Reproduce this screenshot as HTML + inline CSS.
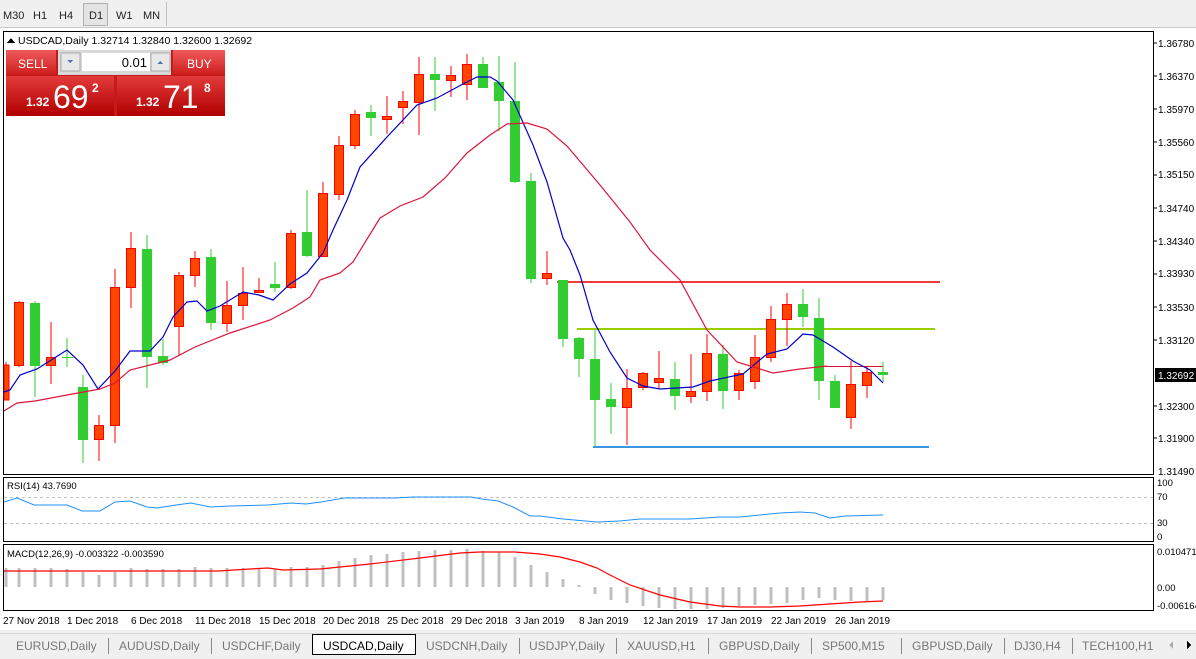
<!DOCTYPE html>
<html><head><meta charset="utf-8"><style>
html,body{margin:0;padding:0;width:1196px;height:659px;overflow:hidden;background:#fff;font-family:"Liberation Sans",sans-serif}
svg text{font-family:"Liberation Sans",sans-serif}
</style></head><body>
<svg width="1196" height="659" xmlns="http://www.w3.org/2000/svg" shape-rendering="crispEdges">
<!-- toolbar -->
<rect x="0" y="0" width="1196" height="28" fill="#f0f0f0"/>
<line x1="0" y1="27.5" x2="1196" y2="27.5" stroke="#c8c8c8"/>
<rect x="83.5" y="3.5" width="24" height="22" fill="#e4e4e4" stroke="#b0b0b0"/>
<line x1="166.5" y1="2" x2="166.5" y2="26" stroke="#c0c0c0"/>
<g font-size="11" fill="#222"><text x="3" y="19">M30</text><text x="33" y="19">H1</text><text x="59" y="19">H4</text><text x="89" y="19">D1</text><text x="116" y="19">W1</text><text x="143" y="19">MN</text></g>
<rect x="0" y="28" width="1196" height="602" fill="#fff"/>
<!-- main chart frame -->
<rect x="3.5" y="31.5" width="1150" height="443" fill="none" stroke="#000"/>
<rect x="3.5" y="477.5" width="1150" height="64" fill="none" stroke="#000"/>
<rect x="3.5" y="544.5" width="1150" height="66" fill="none" stroke="#000"/>
<!-- header text -->
<path d="M7 43 L11 38 L15 43 Z" fill="#000"/>
<text x="18" y="44" font-size="10.5" fill="#000">USDCAD,Daily  1.32714 1.32840 1.32600 1.32692</text>
<!-- price axis labels -->
<g font-size="10" fill="#000">
<text x="1158" y="47">1.36780</text><text x="1158" y="80">1.36370</text><text x="1158" y="113">1.35970</text><text x="1158" y="146">1.35560</text><text x="1158" y="178">1.35150</text><text x="1158" y="212">1.34740</text><text x="1158" y="245">1.34340</text><text x="1158" y="277">1.33930</text><text x="1158" y="311">1.33530</text><text x="1158" y="344">1.33120</text><text x="1158" y="410">1.32300</text><text x="1158" y="442">1.31900</text><text x="1158" y="475">1.31490</text>
</g>
<g stroke="#000"><line x1="1153" y1="43" x2="1157" y2="43"/><line x1="1153" y1="76" x2="1157" y2="76"/><line x1="1153" y1="109" x2="1157" y2="109"/><line x1="1153" y1="142" x2="1157" y2="142"/><line x1="1153" y1="175" x2="1157" y2="175"/><line x1="1153" y1="208" x2="1157" y2="208"/><line x1="1153" y1="241" x2="1157" y2="241"/><line x1="1153" y1="274" x2="1157" y2="274"/><line x1="1153" y1="307" x2="1157" y2="307"/><line x1="1153" y1="340" x2="1157" y2="340"/><line x1="1153" y1="406" x2="1157" y2="406"/><line x1="1153" y1="438" x2="1157" y2="438"/></g>
<rect x="1155" y="368" width="41" height="14" fill="#000"/>
<text x="1158" y="379" font-size="10" fill="#fff">1.32692</text>
<!-- horizontal level lines -->
<line x1="557" y1="282" x2="940" y2="282" stroke="#f23a3a" stroke-width="2"/>
<line x1="577" y1="329" x2="935" y2="329" stroke="#9acd00" stroke-width="2"/>
<line x1="593" y1="447" x2="929" y2="447" stroke="#3a96e0" stroke-width="2"/>
<line x1="824" y1="366.5" x2="883" y2="366.5" stroke="#dc143c"/>
<!-- candles -->
<g id="c" stroke-width="1">
<line x1="6" y1="362" x2="6" y2="400" stroke="#f00"/><rect x="4" y="365" width="5" height="35" fill="#ff4500" stroke="#f00"/>
<line x1="19" y1="301" x2="19" y2="367" stroke="#f00"/><rect x="14.5" y="302.5" width="9" height="63" fill="#ff4500" stroke="#f00"/>
<line x1="35" y1="301" x2="35" y2="397" stroke="#32cd32"/><rect x="30" y="303" width="10" height="63" fill="#32cd32"/>
<line x1="51" y1="322" x2="51" y2="384" stroke="#f00"/><rect x="46.5" y="357.5" width="9" height="8" fill="#ff4500" stroke="#f00"/>
<line x1="67" y1="338" x2="67" y2="367" stroke="#32cd32"/><line x1="62" y1="357.5" x2="73" y2="357.5" stroke="#32cd32"/>
<line x1="83" y1="375" x2="83" y2="463" stroke="#32cd32"/><rect x="78" y="387" width="10" height="53" fill="#32cd32"/>
<line x1="99" y1="415" x2="99" y2="461" stroke="#f00"/><rect x="94.5" y="425.5" width="9" height="14" fill="#ff4500" stroke="#f00"/>
<line x1="115" y1="269" x2="115" y2="443" stroke="#f00"/><rect x="110.5" y="287.5" width="9" height="138" fill="#ff4500" stroke="#f00"/>
<line x1="131" y1="232" x2="131" y2="308" stroke="#f00"/><rect x="126.5" y="248.5" width="9" height="39" fill="#ff4500" stroke="#f00"/>
<line x1="147" y1="235" x2="147" y2="388" stroke="#32cd32"/><rect x="142" y="249" width="10" height="108" fill="#32cd32"/>
<line x1="163" y1="339" x2="163" y2="365" stroke="#32cd32"/><rect x="158" y="356" width="10" height="7" fill="#32cd32"/>
<line x1="179" y1="272" x2="179" y2="355" stroke="#f00"/><rect x="174.5" y="275.5" width="9" height="51" fill="#ff4500" stroke="#f00"/>
<line x1="195" y1="251" x2="195" y2="287" stroke="#f00"/><rect x="190.5" y="258.5" width="9" height="17" fill="#ff4500" stroke="#f00"/>
<line x1="211" y1="249" x2="211" y2="330" stroke="#32cd32"/><rect x="206" y="257" width="10" height="66" fill="#32cd32"/>
<line x1="227" y1="281" x2="227" y2="332" stroke="#f00"/><rect x="222.5" y="305.5" width="9" height="18" fill="#ff4500" stroke="#f00"/>
<line x1="243" y1="267" x2="243" y2="320" stroke="#f00"/><rect x="238.5" y="293.5" width="9" height="12" fill="#ff4500" stroke="#f00"/>
<line x1="259" y1="278" x2="259" y2="292" stroke="#f00"/><rect x="254.5" y="290.5" width="9" height="2" fill="#ff4500" stroke="#f00"/>
<line x1="275" y1="262" x2="275" y2="292" stroke="#32cd32"/><rect x="270" y="284" width="10" height="4" fill="#32cd32"/>
<line x1="291" y1="230" x2="291" y2="289" stroke="#f00"/><rect x="286.5" y="233.5" width="9" height="54" fill="#ff4500" stroke="#f00"/>
<line x1="307" y1="190" x2="307" y2="257" stroke="#32cd32"/><rect x="302" y="232" width="10" height="24" fill="#32cd32"/>
<line x1="323" y1="182" x2="323" y2="257" stroke="#f00"/><rect x="318.5" y="193.5" width="9" height="63" fill="#ff4500" stroke="#f00"/>
<line x1="339" y1="136" x2="339" y2="200" stroke="#f00"/><rect x="334.5" y="145.5" width="9" height="49" fill="#ff4500" stroke="#f00"/>
<line x1="355" y1="110" x2="355" y2="149" stroke="#f00"/><rect x="350.5" y="114.5" width="9" height="31" fill="#ff4500" stroke="#f00"/>
<line x1="371" y1="105" x2="371" y2="136" stroke="#32cd32"/><rect x="366" y="112" width="10" height="6" fill="#32cd32"/>
<line x1="387" y1="96" x2="387" y2="134" stroke="#f00"/><rect x="382.5" y="116.5" width="9" height="3" fill="#ff4500" stroke="#f00"/>
<line x1="403" y1="91" x2="403" y2="124" stroke="#f00"/><rect x="398.5" y="101.5" width="9" height="6" fill="#ff4500" stroke="#f00"/>
<line x1="419" y1="57" x2="419" y2="135" stroke="#f00"/><rect x="414.5" y="74.5" width="9" height="28" fill="#ff4500" stroke="#f00"/>
<line x1="435" y1="57" x2="435" y2="111" stroke="#32cd32"/><rect x="430" y="74" width="10" height="6" fill="#32cd32"/>
<line x1="451" y1="66" x2="451" y2="97" stroke="#f00"/><rect x="446.5" y="75.5" width="9" height="5" fill="#ff4500" stroke="#f00"/>
<line x1="467" y1="54" x2="467" y2="100" stroke="#f00"/><rect x="462.5" y="64.5" width="9" height="20" fill="#ff4500" stroke="#f00"/>
<line x1="483" y1="57" x2="483" y2="88" stroke="#32cd32"/><rect x="478" y="64" width="10" height="24" fill="#32cd32"/>
<line x1="499" y1="56" x2="499" y2="131" stroke="#32cd32"/><rect x="494" y="82" width="10" height="19" fill="#32cd32"/>
<line x1="515" y1="62" x2="515" y2="183" stroke="#32cd32"/><rect x="510" y="101" width="10" height="81" fill="#32cd32"/>
<line x1="531" y1="173" x2="531" y2="283" stroke="#32cd32"/><rect x="526" y="181" width="10" height="98" fill="#32cd32"/>
<line x1="547" y1="251" x2="547" y2="285" stroke="#f00"/><rect x="542.5" y="273.5" width="9" height="5" fill="#ff4500" stroke="#f00"/>
<line x1="563" y1="280" x2="563" y2="347" stroke="#32cd32"/><rect x="558" y="280" width="10" height="59" fill="#32cd32"/>
<line x1="579" y1="337" x2="579" y2="377" stroke="#32cd32"/><rect x="574" y="338" width="10" height="21" fill="#32cd32"/>
<line x1="595" y1="330" x2="595" y2="446" stroke="#32cd32"/><rect x="590" y="359" width="10" height="41" fill="#32cd32"/>
<line x1="611" y1="383" x2="611" y2="434" stroke="#32cd32"/><rect x="606" y="399" width="10" height="8" fill="#32cd32"/>
<line x1="627" y1="369" x2="627" y2="445" stroke="#f00"/><rect x="622.5" y="388.5" width="9" height="19" fill="#ff4500" stroke="#f00"/>
<line x1="643" y1="372" x2="643" y2="390" stroke="#f00"/><rect x="638.5" y="373.5" width="9" height="14" fill="#ff4500" stroke="#f00"/>
<line x1="659" y1="351" x2="659" y2="389" stroke="#f00"/><rect x="654.5" y="378.5" width="9" height="4" fill="#ff4500" stroke="#f00"/>
<line x1="675" y1="362" x2="675" y2="410" stroke="#32cd32"/><rect x="670" y="379" width="10" height="17" fill="#32cd32"/>
<line x1="691" y1="354" x2="691" y2="403" stroke="#f00"/><rect x="686.5" y="391.5" width="9" height="5" fill="#ff4500" stroke="#f00"/>
<line x1="707" y1="334" x2="707" y2="401" stroke="#f00"/><rect x="702.5" y="353.5" width="9" height="38" fill="#ff4500" stroke="#f00"/>
<line x1="723" y1="345" x2="723" y2="409" stroke="#32cd32"/><rect x="718" y="354" width="10" height="37" fill="#32cd32"/>
<line x1="739" y1="370" x2="739" y2="400" stroke="#f00"/><rect x="734.5" y="373.5" width="9" height="17" fill="#ff4500" stroke="#f00"/>
<line x1="755" y1="335" x2="755" y2="389" stroke="#f00"/><rect x="750.5" y="357.5" width="9" height="24" fill="#ff4500" stroke="#f00"/>
<line x1="771" y1="306" x2="771" y2="362" stroke="#f00"/><rect x="766.5" y="319.5" width="9" height="38" fill="#ff4500" stroke="#f00"/>
<line x1="787" y1="293" x2="787" y2="346" stroke="#f00"/><rect x="782.5" y="304.5" width="9" height="15" fill="#ff4500" stroke="#f00"/>
<line x1="803" y1="289" x2="803" y2="327" stroke="#32cd32"/><rect x="798" y="304" width="10" height="13" fill="#32cd32"/>
<line x1="819" y1="298" x2="819" y2="400" stroke="#32cd32"/><rect x="814" y="318" width="10" height="63" fill="#32cd32"/>
<line x1="835" y1="375" x2="835" y2="408" stroke="#32cd32"/><rect x="830" y="381" width="10" height="27" fill="#32cd32"/>
<line x1="851" y1="361" x2="851" y2="429" stroke="#f00"/><rect x="846.5" y="384.5" width="9" height="33" fill="#ff4500" stroke="#f00"/>
<line x1="867" y1="366" x2="867" y2="398" stroke="#f00"/><rect x="862.5" y="372.5" width="9" height="13" fill="#ff4500" stroke="#f00"/>
<line x1="883" y1="362" x2="883" y2="382" stroke="#32cd32"/><rect x="878" y="372" width="10" height="3" fill="#32cd32"/>
</g>
<!-- moving averages -->
<g fill="none" shape-rendering="auto">
<polyline stroke="#0000cc" stroke-width="1.2" points="4,392 10,390 20,375 37,369 67,350 83,365 98,389 115,371 130,351 150,351 163,337 173,317 187,302 197,301 207,311 220,306 243,292 259,295 273,300 290,284 307,273 323,253 333,230 347,200 360,167 387,137 417,105 437,98 463,84 477,77 490,77 497,81 513,100 533,145 547,182 563,238 570,250 580,275 593,320 610,352 627,378 643,386 660,389 693,387 710,381 743,374 767,354 787,349 803,334 813,335 833,347 853,361 870,370 883,383"/>
<polyline stroke="#dc143c" stroke-width="1.2" points="4,411 17,403 35,401 67,395 100,389 115,383 130,370 170,360 195,347 230,333 270,320 293,308 310,297 320,280 340,273 353,262 380,218 400,206 423,197 445,178 467,153 490,135 507,124 527,123 547,129 567,146 600,185 630,222 650,250 680,280 707,330 737,362 760,369 773,373 800,369 827,366"/>
</g>
<!-- SELL/BUY panel -->
<defs>
<linearGradient id="rg" x1="0" y1="0" x2="0" y2="1"><stop offset="0" stop-color="#e23b3b"/><stop offset="1" stop-color="#b10000"/></linearGradient>
<linearGradient id="rg2" x1="0" y1="0" x2="0" y2="1"><stop offset="0" stop-color="#ef5a5a"/><stop offset="1" stop-color="#cf2020"/></linearGradient>
</defs>
<rect x="6" y="50" width="219" height="66" fill="#c41a1a"/>
<rect x="6" y="50" width="50" height="24" fill="url(#rg2)"/>
<rect x="173" y="50" width="52" height="24" fill="url(#rg2)"/>
<rect x="58" y="50" width="113" height="25" fill="#d8d8d8"/>
<rect x="61" y="53" width="19" height="18" fill="#e8e8e8" stroke="#aaa"/>
<rect x="82" y="53" width="68" height="18" fill="#fff"/>
<rect x="151" y="53" width="19" height="18" fill="#e8e8e8" stroke="#aaa"/>
<path d="M67 60 L73 60 L70 63 Z" fill="#5570b0"/><path d="M157 64 L163 64 L160 61 Z" fill="#5570b0"/>
<text x="147" y="67" font-size="13" fill="#000" text-anchor="end">0.01</text>
<text x="18" y="68" font-size="12" fill="#fff">SELL</text>
<text x="187" y="68" font-size="12" fill="#fff">BUY</text>
<rect x="6" y="76" width="108" height="40" fill="url(#rg)"/>
<rect x="117" y="76" width="108" height="40" fill="url(#rg)"/>
<g fill="#fff"><text x="26" y="106" font-size="12" font-weight="bold">1.32</text><text x="53" y="108" font-size="32">69</text><text x="92" y="92" font-size="12" font-weight="bold">2</text>
<text x="136" y="106" font-size="12" font-weight="bold">1.32</text><text x="163" y="108" font-size="32">71</text><text x="204" y="92" font-size="12" font-weight="bold">8</text></g>
<!-- RSI -->
<text x="7" y="489" font-size="9.5" fill="#000">RSI(14) 43.7690</text>
<line x1="4" y1="497.5" x2="1153" y2="497.5" stroke="#c0c0c0" stroke-dasharray="3,3"/>
<line x1="4" y1="523.5" x2="1153" y2="523.5" stroke="#c0c0c0" stroke-dasharray="3,3"/>
<polyline fill="none" stroke="#1e90ff" shape-rendering="auto" points="4,502 17,498 34,505 67,505 82,511 100,511 115,502 130,501 147,507 157,508 176,505 191,503 210,507 230,506 268,505 291,503 306,504 321,502 344,498 364,498 394,498 413,497 471,497 482,499 498,501 513,507 530,516 540,516 563,519 597,522 620,521 640,519 690,519 720,517 740,517 760,515 780,513 800,512 815,513 830,518 845,516 883,515"/>
<g font-size="9.5" fill="#000"><text x="1157" y="486">100</text><text x="1157" y="500">70</text><text x="1157" y="526">30</text><text x="1157" y="540">0</text></g>
<!-- MACD -->
<g stroke="#c0c0c0" stroke-width="3">
<line x1="6" y1="568" x2="6" y2="587"/><line x1="19" y1="568" x2="19" y2="587"/><line x1="35" y1="568" x2="35" y2="587"/><line x1="51" y1="568" x2="51" y2="587"/><line x1="67" y1="569" x2="67" y2="587"/><line x1="83" y1="572" x2="83" y2="587"/><line x1="99" y1="575" x2="99" y2="587"/><line x1="115" y1="572" x2="115" y2="587"/><line x1="131" y1="568" x2="131" y2="587"/><line x1="147" y1="569" x2="147" y2="587"/><line x1="163" y1="569" x2="163" y2="587"/><line x1="179" y1="569" x2="179" y2="587"/><line x1="195" y1="567" x2="195" y2="587"/><line x1="211" y1="568" x2="211" y2="587"/><line x1="227" y1="568" x2="227" y2="587"/><line x1="243" y1="568" x2="243" y2="587"/><line x1="259" y1="568" x2="259" y2="587"/><line x1="275" y1="569" x2="275" y2="587"/><line x1="291" y1="567" x2="291" y2="587"/><line x1="307" y1="567" x2="307" y2="587"/><line x1="323" y1="565" x2="323" y2="587"/><line x1="339" y1="561" x2="339" y2="587"/><line x1="355" y1="558" x2="355" y2="587"/><line x1="371" y1="555" x2="371" y2="587"/><line x1="387" y1="554" x2="387" y2="587"/><line x1="403" y1="552" x2="403" y2="587"/><line x1="419" y1="551" x2="419" y2="587"/><line x1="435" y1="550" x2="435" y2="587"/><line x1="451" y1="550" x2="451" y2="587"/><line x1="467" y1="549" x2="467" y2="587"/><line x1="483" y1="551" x2="483" y2="587"/><line x1="499" y1="552" x2="499" y2="587"/><line x1="515" y1="557" x2="515" y2="587"/><line x1="531" y1="565" x2="531" y2="587"/><line x1="547" y1="572" x2="547" y2="587"/><line x1="563" y1="579" x2="563" y2="587"/><line x1="579" y1="585" x2="579" y2="587"/>
<line x1="595" y1="587" x2="595" y2="594"/><line x1="611" y1="587" x2="611" y2="600"/><line x1="627" y1="587" x2="627" y2="603"/><line x1="643" y1="587" x2="643" y2="606"/><line x1="659" y1="587" x2="659" y2="608"/><line x1="675" y1="587" x2="675" y2="609"/><line x1="691" y1="587" x2="691" y2="609"/><line x1="707" y1="587" x2="707" y2="609"/><line x1="723" y1="587" x2="723" y2="608"/><line x1="739" y1="587" x2="739" y2="606"/><line x1="755" y1="587" x2="755" y2="605"/><line x1="771" y1="587" x2="771" y2="604"/><line x1="787" y1="587" x2="787" y2="603"/><line x1="803" y1="587" x2="803" y2="600"/><line x1="819" y1="587" x2="819" y2="598"/><line x1="835" y1="587" x2="835" y2="600"/><line x1="851" y1="587" x2="851" y2="601"/><line x1="867" y1="587" x2="867" y2="601"/><line x1="883" y1="587" x2="883" y2="600"/>
</g>
<polyline fill="none" stroke="#f00" stroke-width="1.2" shape-rendering="auto" points="4,571 218,571 250,569 268,568 283,570 320,569 340,567 370,564 420,558 460,553 480,552 515,552 540,554 560,557 580,562 597,568 610,575 630,585 660,595 690,602 720,606 740,607 770,607 800,606 830,604 860,602 883,601"/>
<text x="7" y="557" font-size="9.5" fill="#000">MACD(12,26,9) -0.003322 -0.003590</text>
<g font-size="9.5" fill="#000"><text x="1157" y="555">0.010471</text><text x="1157" y="591">0.00</text><text x="1157" y="609">-0.006164</text></g>
<!-- date axis -->
<g font-size="10" fill="#000">
<text x="3" y="624">27 Nov 2018</text><text x="67" y="624">1 Dec 2018</text><text x="131" y="624">6 Dec 2018</text><text x="195" y="624">11 Dec 2018</text><text x="259" y="624">15 Dec 2018</text><text x="323" y="624">20 Dec 2018</text><text x="387" y="624">25 Dec 2018</text><text x="451" y="624">29 Dec 2018</text><text x="515" y="624">3 Jan 2019</text><text x="579" y="624">8 Jan 2019</text><text x="643" y="624">12 Jan 2019</text><text x="707" y="624">17 Jan 2019</text><text x="771" y="624">22 Jan 2019</text><text x="835" y="624">26 Jan 2019</text>
</g>
<!-- tabs -->
<rect x="0" y="630" width="1196" height="29" fill="#f0f0f0"/>
<line x1="0" y1="633.5" x2="1196" y2="633.5" stroke="#d8d8d8"/>
<rect x="312.5" y="634.5" width="103" height="20" fill="#fff" stroke="#000"/>
<g font-size="12" fill="#777"><text x="16" y="650">EURUSD,Daily</text><text x="119" y="650">AUDUSD,Daily</text><text x="222" y="650">USDCHF,Daily</text><text x="426" y="650">USDCNH,Daily</text><text x="529" y="650">USDJPY,Daily</text><text x="627" y="650">XAUUSD,H1</text><text x="719" y="650">GBPUSD,Daily</text><text x="822" y="650">SP500,M15</text><text x="912" y="650">GBPUSD,Daily</text><text x="1014" y="650">DJ30,H4</text><text x="1082" y="650">TECH100,H1</text></g>
<text x="323" y="650" font-size="12" fill="#000">USDCAD,Daily</text>
<g stroke="#888"><line x1="108.5" y1="638" x2="108.5" y2="654"/><line x1="211.5" y1="638" x2="211.5" y2="654"/><line x1="519.5" y1="638" x2="519.5" y2="654"/><line x1="616.5" y1="638" x2="616.5" y2="654"/><line x1="708.5" y1="638" x2="708.5" y2="654"/><line x1="811.5" y1="638" x2="811.5" y2="654"/><line x1="901.5" y1="638" x2="901.5" y2="654"/><line x1="1004.5" y1="638" x2="1004.5" y2="654"/><line x1="1072.5" y1="638" x2="1072.5" y2="654"/></g>
<path d="M1173 641 L1169 645 L1173 649 Z" fill="#aaa"/><path d="M1187 641 L1191 645 L1187 649 Z" fill="#000"/>
</svg>
</body></html>
